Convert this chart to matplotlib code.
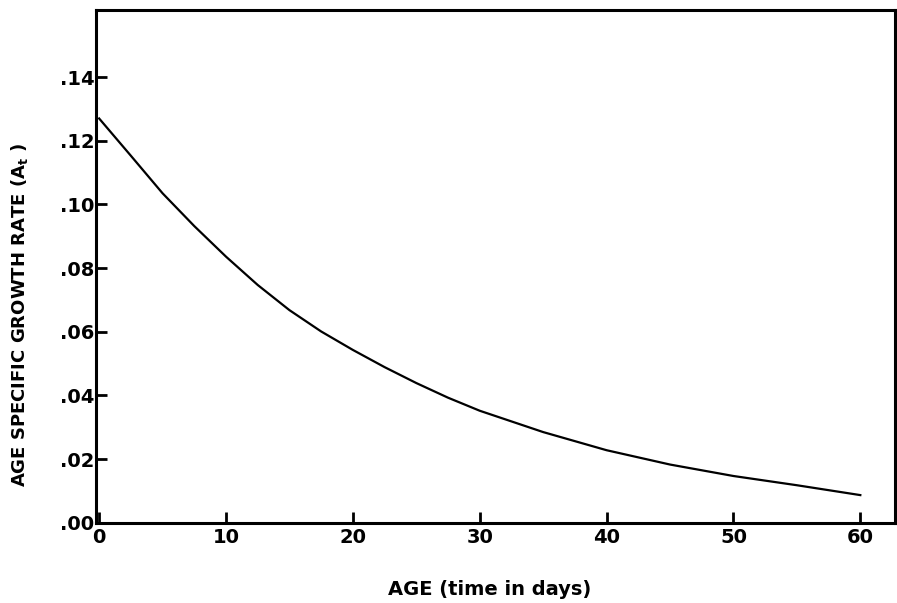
import numpy as np
import matplotlib.pyplot as plt

plt.rcParams['font.family'] = ['DejaVu Sans']
plt.rcParams['font.weight'] = 'bold'

# age (days) and age specific growth rate
age = [0, 2.5, 5, 7.5, 10, 12.5, 15, 17.5, 20, 22.5, 25, 27.5, 30,
       35, 40, 45, 50, 55, 60]
rate = [0.127, 0.1153, 0.1035, 0.0932, 0.0836, 0.0747, 0.0668, 0.0601,
        0.0543, 0.0489, 0.0439, 0.0393, 0.0352, 0.0285, 0.0228, 0.0183,
        0.0147, 0.0118, 0.0087]

yticks = [0.00, 0.02, 0.04, 0.06, 0.08, 0.10, 0.12, 0.14]
ytick_labels = ['.00', '.02', '.04', '.06', '.08', '.10', '.12', '.14']
xticks = [0, 10, 20, 30, 40, 50, 60]

fig = plt.figure(figsize=(8.97, 6.03), dpi=100)
ax = fig.add_axes([0.107, 0.133, 0.891, 0.85])

ax.plot(age, rate, color='black', lw=1.6)

ax.set_xlim(-0.25, 62.75)
ax.set_ylim(0, 0.161)
ax.set_xticks(xticks)
ax.set_yticks(yticks)
ax.set_yticklabels(ytick_labels)

ax.tick_params(direction='in', length=8, width=2, labelsize=14, pad=1)
ax.tick_params(axis='x', pad=4)
for s in ax.spines.values():
    s.set_linewidth(2.2)

ax.set_xlabel('AGE (time in days)', fontsize=14, fontweight='bold')
ax.set_ylabel(r'AGE SPECIFIC GROWTH RATE (A$_{\mathbf{t}}$ )', fontsize=13,
              fontweight='bold')
ax.xaxis.set_label_coords(0.493, -0.112)
ax.yaxis.set_label_coords(-0.083, 0.405)

fig.savefig('out.png', dpi=100)
